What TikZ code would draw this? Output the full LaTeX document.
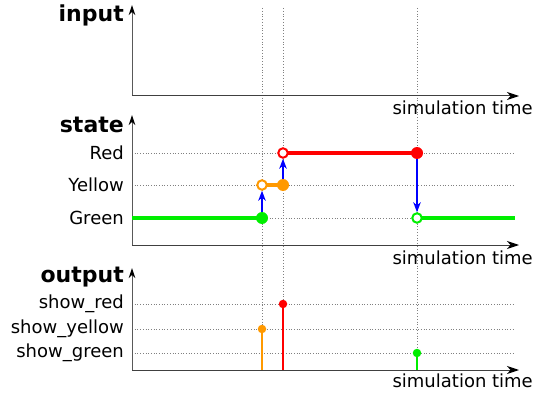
\documentclass[tikz,border=0pt]{standalone}
\usepackage{fontspec}
\setmainfont{DejaVu Sans}
\usetikzlibrary{arrows.meta}
\definecolor{cgreen}{RGB}{0,238,0}
\definecolor{corange}{RGB}{255,153,0}
\definecolor{cred}{RGB}{255,0,0}
\definecolor{cblue}{RGB}{0,0,255}
\tikzset{
  yaxisline/.style={line width=1pt, draw=black!65, -{Stealth[length=10pt,width=6.5pt,inset=3pt,black]}},
  xaxisline/.style={line width=1pt, draw=black!75, -{Stealth[length=12pt,width=8pt,inset=3.5pt,black]}},
  grid/.style={dotted, draw=black!50, line width=0.7pt},
  vgrid/.style={dotted, draw=black!50, line width=0.8pt},
  panellabel/.style={font=\fontsize{22}{24}\selectfont\bfseries, anchor=east, inner sep=0pt},
  ylab/.style={font=\fontsize{18}{20}\selectfont, anchor=east, inner sep=0pt},
  timelab/.style={font=\fontsize{18}{20}\selectfont, anchor=east, inner sep=0pt},
  fillc/.style={circle, inner sep=0pt, minimum size=12pt, fill=#1},
  openc/.style={circle, inner sep=0pt, minimum size=9.5pt, draw=#1, line width=2pt, fill=white},
  dotc/.style={circle, inner sep=0pt, minimum size=8.5pt, fill=#1},
  stateline/.style={line width=4pt, draw=#1},
  outline/.style={line width=2pt, draw=#1},
  trans/.style={line width=1.5pt, draw=cblue, -{Stealth[length=10pt,width=7.5pt,inset=3pt]}},
}
\begin{document}
\begin{tikzpicture}[x=1pt,y=-1pt]
\useasboundingbox (0,0) rectangle (535,393);
% vertical dotted guides
\coordinate (v1t) at (262,8); \coordinate (v1b) at (262,370);
\coordinate (v2t) at (283,8); \coordinate (v2b) at (283,370);
\coordinate (v3t) at (417,8); \coordinate (v3b) at (417,370);
\draw[vgrid] (v1t) -- (v1b);
\draw[vgrid] (v2t) -- (v2b);
\draw[vgrid] (v3t) -- (v3b);
% horizontal grid
\foreach \yy/\nm in {153/gr,185/gy,218/gg,304/or,329/oy,353/og} {
  \coordinate (\nm l) at (132,\yy); \coordinate (\nm r) at (515,\yy);
  \draw[grid] (\nm l) -- (\nm r);
}
% input panel
\coordinate (io) at (132,96); \coordinate (iy) at (132,5); \coordinate (ix) at (519,96);
\draw[yaxisline] (io) -- (iy);
\draw[xaxisline] (io) -- (ix);
\node[panellabel] (inlab) at (124,15) {input};
\node[timelab] (t1) at (533,108) {simulation time};
% state panel
\coordinate (so) at (132,245); \coordinate (sy) at (132,115); \coordinate (sx) at (519,245);
\draw[yaxisline] (so) -- (sy);
\draw[xaxisline] (so) -- (sx);
\node[panellabel] (stlab) at (124,125) {state};
\node[ylab] (lred) at (124,153) {Red};
\node[ylab] (lyel) at (124,185) {Yellow};
\node[ylab] (lgrn) at (124,218) {Green};
\node[timelab] (t2) at (533,258) {simulation time};
% state trajectory
\coordinate (g0) at (132,218);
\coordinate (g9) at (515,218);
\draw[stateline=cgreen] (g0) -- (262,218);
\draw[stateline=corange] (262,185) -- (283,185);
\draw[stateline=cred] (283,153) -- (417,153);
\draw[stateline=cgreen] (417,218) -- (g9);
\node[fillc=cgreen] (g1) at (262,218) {};
\node[openc=corange] (y1) at (262,185) {};
\node[fillc=corange] (y2) at (283,185) {};
\node[openc=cred] (r1) at (283,153) {};
\node[fillc=cred] (r2) at (417,153) {};
\node[openc=cgreen] (g2) at (417,218) {};
\draw[trans] (g1) -- (y1);
\draw[trans] (y2) -- (r1);
\draw[trans] (r2) -- (g2);
% output panel
\coordinate (oo) at (132,370); \coordinate (oy) at (132,268); \coordinate (ox) at (519,370);
\draw[yaxisline] (oo) -- (oy);
\draw[xaxisline] (oo) -- (ox);
\node[panellabel] (outlab) at (124,277) {output};
\node[ylab] (lsr) at (124,304) {show\_red};
\node[ylab] (lsy) at (124,329) {show\_yellow};
\node[ylab] (lsg) at (124,353) {show\_green};
\node[timelab] (t3) at (533,381) {simulation time};
\coordinate (e1) at (262,369.5); \coordinate (e2) at (283,369.5); \coordinate (e3) at (417,369.5);
\node[dotc=corange] (dy) at (262,329) {};
\node[dotc=cred] (dr) at (283,304) {};
\node[dotc=cgreen] (dg) at (417,353) {};
\draw[outline=corange] (e1) -- (dy.center);
\draw[outline=cred] (e2) -- (dr.center);
\draw[outline=cgreen] (e3) -- (dg.center);
\end{tikzpicture}
\end{document}
